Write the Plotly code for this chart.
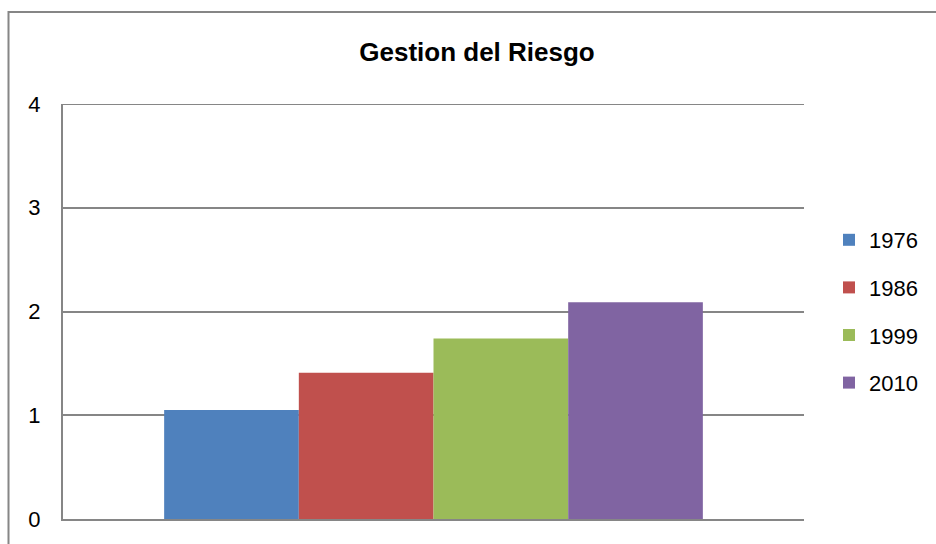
import plotly.graph_objects as go

categories = [""]
series_names = ["1976", "1986", "1999", "2010"]
series_values = [1.05, 1.41, 1.74, 2.09]
colors = ["#4F81BD", "#C0504D", "#9BBB59", "#8064A2"]
y_ticks = [0, 1, 2, 3, 4]

FONT = "Liberation Sans"
GRID = "#868686"

fig = go.Figure()
for name, val, col in zip(series_names, series_values, colors):
    fig.add_trace(go.Bar(x=categories, y=[val], name=name, marker=dict(color=col, line=dict(width=0)),
                         legendgroup=name))

W, H = 936, 544
L, R, T, B = 63, 132, 104, 25
pw = W - L - R
ph = H - T - B

def px_x(px):
    return (px - L) / pw

def px_y(py):
    return (H - B - py) / ph

fig.update_layout(
    width=W, height=H,
    margin=dict(l=L, r=R, t=T, b=B),
    paper_bgcolor="white", plot_bgcolor="white",
    font=dict(family=FONT, size=22, color="black"),
    title=dict(text="<b>Gestion del Riesgo</b>", font=dict(family=FONT, size=26, color="black"),
               x=px_x(477), xref="paper", xanchor="center", y=1 - 52 / H, yanchor="middle"),
    barmode="group", bargap=0.273, bargroupgap=0,
    showlegend=True,
    legend=dict(x=px_x(829), y=px_y(219), xanchor="left", yanchor="top", xref="paper", yref="paper",
                font=dict(family=FONT, size=22, color="black"), tracegroupgap=16,
                bgcolor="rgba(0,0,0,0)", itemwidth=30),
    xaxis=dict(showticklabels=False, showgrid=False, zeroline=False, showline=True,
               linecolor=GRID, linewidth=2, ticks=""),
    yaxis=dict(range=[0, 4], tickvals=y_ticks, showgrid=True, gridcolor=GRID, gridwidth=2,
               showline=True, linecolor=GRID, linewidth=2, zeroline=False, ticks="",
               ticklabelstandoff=16, tickfont=dict(family=FONT, size=22, color="black")),
    shapes=[
        dict(type="rect", xref="paper", yref="paper", x0=px_x(8.5), x1=px_x(1000),
             y0=px_y(12), y1=px_y(600), line=dict(color=GRID, width=2), fillcolor="rgba(0,0,0,0)",
             layer="below"),
        dict(type="line", xref="paper", yref="y", x0=0, x1=1, y0=y_ticks[-1], y1=y_ticks[-1],
             line=dict(color=GRID, width=2), layer="below"),
    ],
)

fig.write_html("out.html")
